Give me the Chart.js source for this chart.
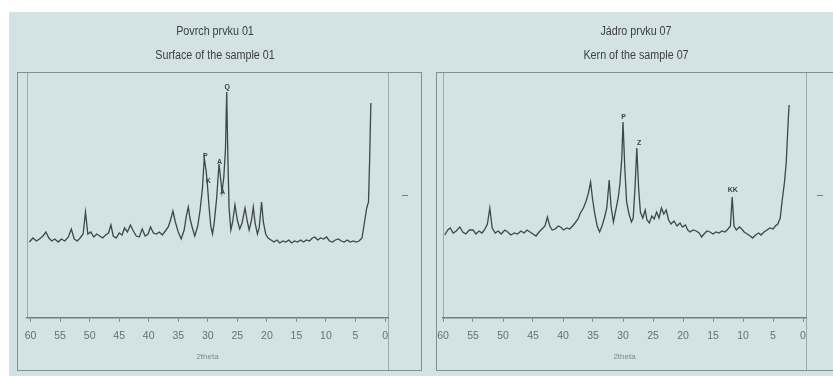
<!DOCTYPE html>
<html lang="cs">
<head>
<meta charset="UTF-8">
<title>XRD</title>
<script src="https://cdn.jsdelivr.net/npm/chart.js@4.4.1/dist/chart.umd.min.js"></script>
<style>
    html, body {
        margin: 0;
        padding: 0;
        width: 833px;
        height: 376px;
        overflow: hidden;
        background: #ffffff;
    }
    #bg {
        position: absolute;
        left: 9px; top: 12px; right: 0; bottom: 0;
        background: #d3e2e2;
    }
    .frame {
        position: absolute;
        border: 1.5px solid #7e9191;
        box-sizing: border-box;
    }
    .vline {
        position: absolute;
        width: 1px;
        background: #98abab;
    }
    .dash {
        position: absolute;
        width: 6px; height: 1px;
        background: #6f8282;
    }
    canvas { position: absolute; }
</style>
</head>
<body>
<div id="bg"></div>
<div class="frame" style="left:17px;top:72px;width:405px;height:299px"></div>
<div class="frame" style="left:436px;top:72px;width:420px;height:299px"></div>
<div class="vline" style="left:27px;top:73px;height:245px"></div>
<div class="vline" style="left:388px;top:73px;height:297px"></div>
<div class="vline" style="left:443px;top:73px;height:245px"></div>
<div class="vline" style="left:806px;top:73px;height:297px"></div>
<div class="dash" style="left:402px;top:195px"></div>
<div class="dash" style="left:817px;top:195px"></div>

<canvas id="c1" width="392" height="364" style="left:9px;top:12px"></canvas>
<canvas id="c2" width="412" height="364" style="left:430px;top:12px"></canvas>

<script>
// povrch prvku 01 - 2theta / intenzita
const twoTheta1 = [60.2,59.6,59.0,58.5,57.9,57.4,56.9,56.4,55.9,55.3,54.8,54.2,53.6,53.1,52.6,52.1,51.6,51.1,50.7,50.3,
    49.8,49.3,48.8,48.3,47.8,47.3,46.8,46.4,46.0,45.5,45.0,44.5,44.1,43.6,43.1,42.6,42.1,41.6,41.1,40.6,
    40.1,39.7,39.2,38.7,38.2,37.7,37.2,36.7,36.3,35.9,35.5,35.0,34.5,34.0,33.6,33.3,33.0,32.6,32.2,31.7,
    31.3,30.9,30.6,30.3,30.1,29.8,29.5,29.2,28.9,28.5,28.1,27.8,27.6,27.3,27.0,26.8,26.6,26.4,26.1,25.8,
    25.4,25.0,24.6,24.2,23.7,23.3,23.0,22.6,22.3,22.0,21.6,21.3,20.9,20.6,20.2,19.8,19.3,18.8,18.3,17.8,
    17.3,16.8,16.3,15.8,15.3,14.8,14.3,13.8,13.3,12.8,12.3,11.9,11.4,10.9,10.4,9.9,9.4,8.9,8.4,7.9,
    7.4,6.9,6.4,5.9,5.4,4.9,4.4,3.9,3.5,3.1,2.8,2.6,2.4];
const intensity1 = [76,80,77,79,82,86,80,77,79,76,79,77,81,89,79,77,80,84,106,84,
    86,81,84,82,80,83,85,93,82,80,85,83,90,86,93,87,82,81,89,82,
    84,91,85,84,86,83,87,91,98,107,96,86,79,88,103,111,99,90,82,92,
    108,130,160,148,136,112,92,84,96,120,154,138,126,140,170,226,160,110,88,96,
    113,98,89,95,110,96,88,98,111,95,84,90,116,96,84,80,78,76,78,75,
    77,76,78,75,77,76,78,76,78,77,80,81,78,80,79,81,77,76,78,79,
    77,76,78,76,77,76,77,80,95,110,116,160,215];

// jadro prvku 07
const twoTheta2 = [59.7,59.2,58.8,58.3,57.8,57.2,56.7,56.2,55.6,55.0,54.5,54.0,53.5,53.0,52.6,52.2,51.8,51.3,50.8,50.3,
    49.7,49.2,48.7,48.1,47.6,47.0,46.5,46.0,45.5,45.0,44.5,44.0,43.5,43.0,42.6,42.2,41.8,41.3,40.8,40.4,
    39.9,39.4,38.9,38.4,38.0,37.5,37.1,36.6,36.2,35.8,35.4,35.1,34.7,34.3,33.9,33.5,33.1,32.7,32.3,32.0,
    31.6,31.2,30.8,30.5,30.2,30.0,29.7,29.4,29.0,28.6,28.3,28.0,27.7,27.4,27.1,26.7,26.3,26.0,25.6,25.2,
    24.8,24.4,24.0,23.6,23.2,22.8,22.4,22.0,21.5,21.0,20.5,20.1,19.6,19.2,18.8,18.3,17.8,17.3,16.9,16.5,
    16.0,15.5,15.0,14.5,14.0,13.5,13.0,12.5,12.1,11.8,11.5,11.1,10.6,10.2,9.8,9.3,8.8,8.4,7.9,7.4,
    7.0,6.5,6.0,5.5,5.0,4.6,4.2,3.8,3.5,3.1,2.8,2.6,2.4,2.3];
const intensity2 = [83,88,90,85,87,91,86,84,88,88,84,87,85,89,94,110,90,85,87,84,
    88,86,83,85,84,87,85,88,86,84,82,86,89,92,101,92,88,89,92,91,
    88,90,89,92,95,99,105,110,116,124,136,120,104,92,86,92,100,110,138,112,
    96,108,120,135,160,196,150,116,104,96,100,130,170,130,106,100,108,98,95,102,
    99,106,100,110,104,108,98,94,97,92,95,91,93,88,86,88,87,85,81,84,
    87,86,84,86,85,87,86,89,92,121,92,88,91,89,86,84,82,80,83,85,
    83,86,88,90,89,92,94,100,116,135,155,180,205,213];

// popisky piku
const peakPos1 = [26.7, 30.4, 29.9, 28.0, 27.5];
const peakInt1 = [231, 162, 137, 156, 126];
const peakTxt1 = ['Q', 'P', 'K', 'A', 'A'];
const peakPos2 = [29.9, 27.3, 11.7];
const peakInt2 = [201, 175, 128];
const peakTxt2 = ['P', 'Z', 'KK'];

const xTicks = [0, 5, 10, 15, 20, 25, 30, 35, 40, 45, 50, 55, 60];

const FONT = "'Liberation Sans', Arial, sans-serif";

// titulky - uzsi pismo (stlaceni vodorovne)
const panelTitle = {
    id: 'panelTitle',
    afterDraw(chart, args, opts) {
        const ctx = chart.ctx;
        ctx.save();
        ctx.font = '12.5px ' + FONT;
        ctx.fillStyle = '#3b3f3f';
        ctx.textAlign = 'center';
        ctx.textBaseline = 'alphabetic';
        opts.lines.forEach((t, i) => {
            ctx.save();
            ctx.translate(opts.cx, opts.top + i * opts.gap);
            ctx.scale(0.86, 1);
            ctx.fillText(t, 0, 0);
            ctx.restore();
        });
        ctx.restore();
    }
};

const peakLabels = {
    id: 'peakLabels',
    afterDatasetsDraw(chart, args, opts) {
        const ctx = chart.ctx;
        const sx = chart.scales.x, sy = chart.scales.y;
        ctx.save();
        ctx.font = 'bold 7px ' + FONT;
        ctx.fillStyle = '#3a4444';
        ctx.textAlign = 'center';
        ctx.textBaseline = 'middle';
        opts.pos.forEach((p, i) => {
            ctx.fillText(opts.txt[i], sx.getPixelForValue(p), sy.getPixelForValue(opts.val[i]));
        });
        ctx.restore();
    }
};

function makeChart(id, xs, ys, lines, cx, pPos, pVal, pTxt, padL, padR, xMin, xMax) {
    return new Chart(document.getElementById(id), {
        type: 'line',
        data: {
            datasets: [{
                data: xs.map((x, i) => ({x: x, y: ys[i]})),
                borderColor: '#3d4848',
                borderWidth: 1.3,
                pointRadius: 0,
                tension: 0,
                fill: false
            }]
        },
        options: {
            responsive: false,
            animation: false,
            layout: { padding: { left: padL, right: padR, top: 66, bottom: 6 } },
            plugins: {
                legend: { display: false },
                tooltip: { enabled: false },
                panelTitle: { lines: lines, cx: cx, top: 23, gap: 23.5 },
                peakLabels: { pos: pPos, val: pVal, txt: pTxt }
            },
            scales: {
                x: {
                    type: 'linear',
                    reverse: true,
                    min: xMin,
                    max: xMax,
                    afterBuildTicks: s => { s.ticks = xTicks.map(v => ({value: v})); },
                    afterFit: s => { s.height = 52; },
                    ticks: {
                        color: '#627373',
                        font: { family: FONT, size: 10.5 },
                        padding: 8,
                        maxRotation: 0,
                        autoSkip: false
                    },
                    grid: { drawOnChartArea: false, tickLength: 4, color: '#7e9191' },
                    border: { color: '#6f8282', width: 1.5 },
                    title: {
                        display: true,
                        text: '2theta',
                        color: '#7a8a8a',
                        font: { family: FONT, size: 8 },
                        padding: { top: 0, bottom: 8 }
                    }
                },
                y: { display: false, min: 0, max: 240 }
            }
        },
        plugins: [panelTitle, peakLabels]
    });
}

makeChart('c1', twoTheta1, intensity1, ['Povrch prvku 01', 'Surface of the sample 01'], 206,
    peakPos1, peakInt1, peakTxt1, 18, 13, -0.5, 60.6);
makeChart('c2', twoTheta2, intensity2, ['Jádro prvku 07', 'Kern of the sample 07'], 206,
    peakPos2, peakInt2, peakTxt2, 13, 36, -0.5, 60);
</script>
</body>
</html>
